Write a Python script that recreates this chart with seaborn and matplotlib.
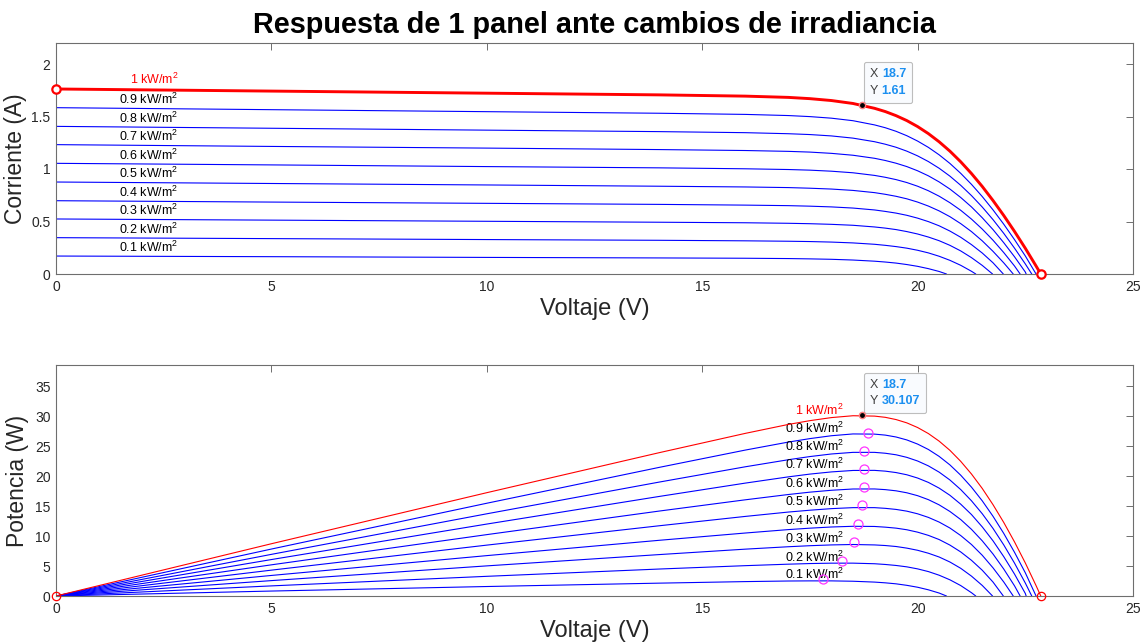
import numpy as np
import pandas as pd
import matplotlib
matplotlib.use('Agg')
import matplotlib.pyplot as plt
import seaborn as sns
from matplotlib.offsetbox import TextArea, HPacker, VPacker, AnnotationBbox

# ---------------- data ----------------
IRRADIANCE = [0.1, 0.2, 0.3, 0.4, 0.5, 0.6, 0.7, 0.8, 0.9, 1.0]
LABELS = ["0.1 kW/m$^{2}$", "0.2 kW/m$^{2}$", "0.3 kW/m$^{2}$", "0.4 kW/m$^{2}$",
          "0.5 kW/m$^{2}$", "0.6 kW/m$^{2}$", "0.7 kW/m$^{2}$", "0.8 kW/m$^{2}$",
          "0.9 kW/m$^{2}$", "1 kW/m$^{2}$"]
V_GRID = [0, 5, 10, 14, 16, 17, 17.5, 18, 18.5, 19, 19.25, 19.5, 19.75, 20,
          20.25, 20.5, 20.75, 21, 21.25, 21.5, 21.75, 22, 22.25, 22.5, 22.75]
VOC = [20.67, 21.35, 21.74, 21.99, 22.22, 22.38, 22.52, 22.65, 22.75, 22.86]

I_01 = [0.171, 0.165, 0.158, 0.153, 0.150, 0.147, 0.144, 0.140, 0.133, 0.122, 0.114,
        0.104, 0.090, 0.073, 0.051, 0.024]
I_02 = [0.346, 0.337, 0.328, 0.321, 0.316, 0.312, 0.309, 0.304, 0.296, 0.283, 0.273,
        0.261, 0.246, 0.226, 0.201, 0.169, 0.130, 0.083, 0.026]
I_03 = [0.524, 0.513, 0.502, 0.493, 0.488, 0.483, 0.479, 0.473, 0.464, 0.448, 0.437,
        0.423, 0.404, 0.381, 0.352, 0.317, 0.273, 0.220, 0.156, 0.082]
I_04 = [0.698, 0.685, 0.673, 0.663, 0.656, 0.651, 0.646, 0.639, 0.628, 0.610, 0.596,
        0.580, 0.559, 0.532, 0.499, 0.459, 0.409, 0.350, 0.280, 0.200, 0.107]
I_05 = [0.876, 0.862, 0.848, 0.836, 0.829, 0.823, 0.817, 0.809, 0.796, 0.775, 0.759,
        0.740, 0.716, 0.685, 0.647, 0.601, 0.546, 0.480, 0.404, 0.316, 0.216, 0.106]
I_06 = [1.054, 1.039, 1.023, 1.011, 1.002, 0.995, 0.989, 0.979, 0.964, 0.939, 0.921,
        0.899, 0.871, 0.836, 0.793, 0.741, 0.679, 0.607, 0.523, 0.428, 0.322, 0.204,
        0.076]
I_07 = [1.232, 1.215, 1.199, 1.185, 1.176, 1.168, 1.161, 1.149, 1.131, 1.102, 1.081,
        1.055, 1.023, 0.983, 0.935, 0.877, 0.809, 0.729, 0.639, 0.536, 0.423, 0.298,
        0.164, 0.019]
I_08 = [1.406, 1.388, 1.370, 1.356, 1.346, 1.336, 1.328, 1.315, 1.294, 1.260, 1.236,
        1.207, 1.170, 1.125, 1.071, 1.007, 0.932, 0.845, 0.747, 0.638, 0.518, 0.387,
        0.246, 0.096]
I_09 = [1.584, 1.565, 1.546, 1.531, 1.520, 1.509, 1.499, 1.484, 1.460, 1.420, 1.393,
        1.359, 1.317, 1.266, 1.206, 1.135, 1.053, 0.959, 0.854, 0.738, 0.611, 0.474,
        0.327, 0.172]
I_10 = [1.762, 1.742, 1.722, 1.706, 1.694, 1.682, 1.670, 1.652, 1.624, 1.578, 1.547,
        1.508, 1.461, 1.404, 1.337, 1.259, 1.170, 1.069, 0.957, 0.834, 0.700, 0.557,
        0.405, 0.245, 0.076]
CURRENTS = [I_01, I_02, I_03, I_04, I_05, I_06, I_07, I_08, I_09, I_10]

# maximum power points of the blue curves (magenta circles)
V_MPP = [17.80, 18.25, 18.52, 18.62, 18.71, 18.75, 18.75, 18.75, 18.85]
P_MPP = [2.80, 5.90, 8.95, 12.0, 15.10, 18.10, 21.18, 24.25, 27.15]
# data tips
TIP_V = 18.7
TIP_I = 1.61
TIP_P = 30.107

# ---------------- build table ----------------
rows = []
for g, lab, cur, voc in zip(IRRADIANCE, LABELS, CURRENTS, VOC):
    vs = V_GRID[:len(cur)] + [voc]
    cs = cur + [0.0]
    for v, c in zip(vs, cs):
        rows.append({"G": g, "label": lab, "V": v, "I": c, "P": v * c})
df = pd.DataFrame(rows)

# ---------------- style ----------------
sns.set_style("white")
plt.rcParams['font.family'] = ['Liberation Sans', 'DejaVu Sans']
plt.rcParams['mathtext.fontset'] = 'custom'
plt.rcParams['mathtext.rm'] = 'Liberation Sans'
plt.rcParams['mathtext.it'] = 'Liberation Sans:italic'
plt.rcParams['mathtext.bf'] = 'Liberation Sans:bold'

TXT = '#262626'
SPINE = '#6e6e6e'
BLUE = '#0000ff'
RED = '#ff0000'
MAG = '#ff33ff'
TIPBLUE = '#1b8ff0'

fig = plt.figure(figsize=(11.43, 6.44), dpi=100)
ax1 = fig.add_axes([56/1143, 1-274/644, (1133-56)/1143, (274-43)/644])
ax2 = fig.add_axes([56/1143, 1-596/644, (1133-56)/1143, (596-365)/644])


def style_axes(ax, ylim, yticks, yfmt):
    ax.set_xlim(0, 25)
    ax.set_ylim(*ylim)
    ax.set_xticks([0, 5, 10, 15, 20, 25])
    ax.set_yticks(yticks)
    ax.set_yticklabels([yfmt(t) for t in yticks])
    ax.tick_params(direction='in', length=5, width=0.7, color=SPINE,
                   top=True, right=True, labelsize=10, labelcolor=TXT, pad=4)
    for s in ax.spines.values():
        s.set_color(SPINE)
        s.set_linewidth(0.8)
    ax.set_xlabel("Voltaje (V)", fontsize=17, color=TXT, labelpad=3)


def tip_box(ax, xy, xs, ys):
    fp = dict(size=9)
    r1 = HPacker(children=[TextArea("X ", textprops=dict(color='#404040', **fp)),
                           TextArea(xs, textprops=dict(color=TIPBLUE, weight='bold', **fp))],
                 pad=0, sep=0)
    r2 = HPacker(children=[TextArea("Y ", textprops=dict(color='#404040', **fp)),
                           TextArea(ys, textprops=dict(color=TIPBLUE, weight='bold', **fp))],
                 pad=0, sep=0)
    box = VPacker(children=[r1, r2], pad=0, sep=3)
    ab = AnnotationBbox(box, xy, xybox=(6, 6), boxcoords='offset points',
                        box_alignment=(0, 0), frameon=True, pad=0.45,
                        bboxprops=dict(fc='#f9fbfe', ec='#bdbdbd', lw=0.8,
                                       boxstyle='round,pad=0.45,rounding_size=0.15'))
    ax.add_artist(ab)


# ---------------- top: I-V ----------------
for g, lab in zip(IRRADIANCE, LABELS):
    sub = df[df.G == g]
    is_ref = g == 1.0
    sns.lineplot(data=sub, x="V", y="I", ax=ax1, color=RED if is_ref else BLUE,
                 linewidth=2.1 if is_ref else 0.8, estimator=None, sort=False,
                 legend=False, zorder=3 if is_ref else 2)
    y0 = sub.I.iloc[0]
    ax1.annotate(lab, xy=(2.85, y0), xytext=(0, 1.5 if is_ref else 0.5),
                 textcoords='offset points', ha='right', va='bottom',
                 fontsize=9, color=RED if is_ref else 'black')

ref = df[df.G == 1.0]
ax1.plot([ref.V.iloc[0], ref.V.iloc[-1]], [ref.I.iloc[0], ref.I.iloc[-1]], 'o',
         mfc='white', mec=RED, mew=1.6, ms=6, zorder=5, clip_on=False)
ax1.plot([TIP_V], [TIP_I], 'o', mfc='black', mec='#ff8080', mew=1.0, ms=4.5, zorder=6)
tip_box(ax1, (TIP_V, TIP_I), "18.7", "1.61")
style_axes(ax1, (0, 2.2), [0, 0.5, 1, 1.5, 2], lambda t: f"{t:g}")
ax1.set_ylabel("Corriente (A)", fontsize=16.5, color=TXT, labelpad=3)
ax1.set_title("Respuesta de 1 panel ante cambios de irradiancia",
              fontsize=20.8, fontweight='bold', color='black', pad=7)

# ---------------- bottom: P-V ----------------
for g, lab in zip(IRRADIANCE, LABELS):
    sub = df[df.G == g]
    is_ref = g == 1.0
    sns.lineplot(data=sub, x="V", y="P", ax=ax2, color=RED if is_ref else BLUE,
                 linewidth=0.8, estimator=None, sort=False, legend=False,
                 zorder=3 if is_ref else 2)
    yl = np.interp(18.3, sub.V.values, sub.P.values)
    ax2.annotate(lab, xy=(18.3, yl), xytext=(0, -1), textcoords='offset points',
                 ha='right', va='bottom', fontsize=9,
                 color=RED if is_ref else 'black')

ax2.plot(V_MPP, P_MPP, 'o', mfc='none', mec=MAG, mew=0.9, ms=6.5, zorder=5)
ax2.plot([0, ref.V.iloc[-1]], [0, 0], 'o', mfc='none', mec=RED, mew=0.9, ms=6,
         zorder=5, clip_on=False)
ax2.plot([TIP_V], [TIP_P], 'o', mfc='black', mec='#ff8080', mew=1.0, ms=4.5, zorder=6)
tip_box(ax2, (TIP_V, TIP_P), "18.7", "30.107")
style_axes(ax2, (0, 38.5), [0, 5, 10, 15, 20, 25, 30, 35], lambda t: f"{t:g}")
ax2.set_ylabel("Potencia (W)", fontsize=16.5, color=TXT, labelpad=4)

fig.savefig("out.png", dpi=100)
